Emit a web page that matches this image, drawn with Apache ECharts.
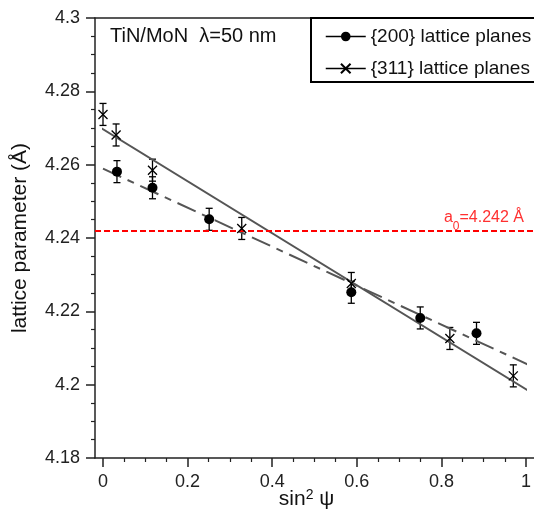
<!DOCTYPE html>
<html>
<head>
<meta charset="utf-8">
<script src="https://cdn.jsdelivr.net/npm/echarts@6/dist/echarts.min.js"></script>
<style>html,body{margin:0;padding:0;background:#fff;}#c{width:534px;height:525px;}</style>
</head>
<body>
<div id="c"></div>
<script>
// ---- data ----
const x200 = [0.033, 0.117, 0.251, 0.587, 0.750, 0.883];
const y200 = [4.2581, 4.2537, 4.2451, 4.2252, 4.2182, 4.2140];
const e200 = [0.003, 0.003, 0.003, 0.003, 0.003, 0.003];
const x311 = [0.000, 0.031, 0.117, 0.328, 0.587, 0.820, 0.970];
const y311 = [4.2737, 4.2681, 4.2585, 4.2426, 4.2276, 4.2126, 4.2024];
const e311 = [0.003, 0.003, 0.003, 0.003, 0.003, 0.003, 0.003];
// linear fits (end points)
const fit200 = [[0.000, 4.2589], [1.012, 4.2051]];
const fit311 = [[-0.019, 4.2710], [1.012, 4.1979]];
const refA0 = 4.242;
const yTicks = {min: 4.18, max: 4.3, interval: 0.02};
const xTicks = {min: 0, max: 1, interval: 0.2};

const FONT = '"Liberation Sans", Arial, sans-serif';
const pts = (xs, ys) => xs.map((x, i) => [x, ys[i]]);
const errs = (xs, ys, es) => xs.map((x, i) => [x, ys[i], es[i]]);

function errRender(params, api) {
  const x = api.value(0), y = api.value(1), e = api.value(2);
  const t = api.coord([x, y + e]), b = api.coord([x, y - e]);
  const w = 3.5;
  const st = {stroke: '#000', lineWidth: 1.3};
  return {type: 'group', children: [
    {type: 'line', shape: {x1: t[0], y1: t[1], x2: b[0], y2: b[1]}, style: st},
    {type: 'line', shape: {x1: t[0] - w, y1: t[1], x2: t[0] + w, y2: t[1]}, style: st},
    {type: 'line', shape: {x1: b[0] - w, y1: b[1], x2: b[0] + w, y2: b[1]}, style: st}
  ]};
}

const crossPath = 'path://M0,0L10,10M10,0L0,10';
const axisCol = '#222';

const chart = echarts.init(document.getElementById('c'), null, {renderer: 'canvas'});
chart.setOption({
  animation: false,
  backgroundColor: '#fff',
  textStyle: {fontFamily: FONT},
  title: {
    text: 'TiN/MoN  λ=50 nm', left: 110, top: 26, padding: 0,
    textStyle: {fontSize: 20, fontWeight: 'normal', color: '#111', fontFamily: FONT}
  },
  legend: {
    orient: 'vertical', left: 311, top: 17,
    padding: [10, 0, 4, 14],
    itemWidth: 40, itemHeight: 12, itemGap: 13,
    textStyle: {fontSize: 19, color: '#111', fontFamily: FONT},
    lineStyle: {opacity: 1, width: 1.5, color: '#000', type: 'solid'},
    data: ['{200} lattice planes', '{311} lattice planes']
  },
  // legend frame (runs off the right edge, as in the reference)
  graphic: [{
    type: 'rect', z: 100, silent: true,
    shape: {x: 311, y: 18, width: 260, height: 64},
    style: {fill: 'none', stroke: '#000', lineWidth: 2}
  }],
  grid: [
    {left: 95, right: 0, top: 18, bottom: 67},
    {left: 103, right: 5, top: 18, bottom: 67}
  ],
  xAxis: [
    {gridIndex: 0, type: 'value', min: 0, max: 1, position: 'bottom',
     axisLine: {show: true, lineStyle: {color: axisCol, width: 1.5}},
     axisTick: {show: false}, axisLabel: {show: false}, splitLine: {show: false},
     name: 'sin{sup|2} ψ', nameLocation: 'middle', nameGap: 30,
     nameTextStyle: {fontSize: 21, color: '#111', fontFamily: FONT, padding: [0, 16, 0, 0],
       rich: {sup: {fontSize: 14, verticalAlign: 'top', padding: [0, 0, 8, 0], fontFamily: FONT}}}},
    {gridIndex: 0, type: 'value', min: 0, max: 1, position: 'top',
     axisLine: {show: true, lineStyle: {color: axisCol, width: 1.5}},
     axisTick: {show: false}, axisLabel: {show: false}, splitLine: {show: false}},
    {gridIndex: 1, type: 'value', min: xTicks.min, max: xTicks.max, interval: xTicks.interval,
     axisLine: {show: false},
     axisTick: {show: true, length: 9, lineStyle: {color: axisCol, width: 1.5}},
     minorTick: {show: true, splitNumber: 4, length: 4, lineStyle: {color: axisCol, width: 1.2}},
     axisLabel: {fontSize: 18, color: '#222', margin: 15, fontFamily: FONT},
     splitLine: {show: false}}
  ],
  yAxis: [
    {gridIndex: 0, type: 'value', min: yTicks.min, max: yTicks.max, interval: yTicks.interval,
     axisLine: {show: true, lineStyle: {color: axisCol, width: 1.5}},
     axisTick: {show: true, length: 9, lineStyle: {color: axisCol, width: 1.5}},
     minorTick: {show: true, splitNumber: 4, length: 4, lineStyle: {color: axisCol, width: 1.2}},
     axisLabel: {fontSize: 18, color: '#222', margin: 15, fontFamily: FONT},
     splitLine: {show: false},
     name: 'lattice parameter (Å)', nameLocation: 'middle', nameGap: 64,
     nameTextStyle: {fontSize: 21, color: '#111', fontFamily: FONT}},
    {gridIndex: 1, type: 'value', min: yTicks.min, max: yTicks.max, show: false}
  ],
  series: [
    {type: 'line', xAxisIndex: 0, yAxisIndex: 0, data: [], silent: true,
     markLine: {
       silent: true, symbol: 'none', precision: 4,
       lineStyle: {color: '#ff0000', type: [6, 3], width: 2},
       label: {show: true, position: 'insideEndTop', distance: [10, -2],
         formatter: '{a|a}{s|0}{a|=4.242 Å}',
         rich: {
           a: {fontSize: 16, color: '#ff3030', fontFamily: FONT},
           s: {fontSize: 12, color: '#ff3030', fontFamily: FONT, padding: [18, 0, 0, 0]}
         }},
       data: [{yAxis: refA0}]
     }},
    {type: 'line', name: 'fit311', xAxisIndex: 2, yAxisIndex: 1, data: fit311, clip: false,
     showSymbol: false, symbol: 'none', silent: true,
     lineStyle: {color: '#555', width: 2}},
    {type: 'line', name: 'fit200', xAxisIndex: 2, yAxisIndex: 1, data: fit200, clip: false,
     showSymbol: false, symbol: 'none', silent: true,
     lineStyle: {color: '#555', width: 2, type: [20, 7, 7, 7]}},
    {type: 'custom', xAxisIndex: 2, yAxisIndex: 1, renderItem: errRender,
     data: errs(x200, y200, e200), z: 3, silent: true},
    {type: 'custom', xAxisIndex: 2, yAxisIndex: 1, renderItem: errRender,
     data: errs(x311, y311, e311), z: 3, silent: true},
    {type: 'line', name: '{200} lattice planes', xAxisIndex: 2, yAxisIndex: 1,
     data: pts(x200, y200), symbol: 'circle', symbolSize: 10, z: 5,
     lineStyle: {opacity: 0}, itemStyle: {color: '#000', borderWidth: 0}},
    {type: 'line', name: '{311} lattice planes', xAxisIndex: 2, yAxisIndex: 1,
     data: pts(x311, y311), symbol: crossPath, symbolSize: 9, z: 5,
     lineStyle: {opacity: 0}, itemStyle: {color: '#000', borderColor: '#000', borderWidth: 1.3}}
  ]
});
</script>
</body>
</html>
